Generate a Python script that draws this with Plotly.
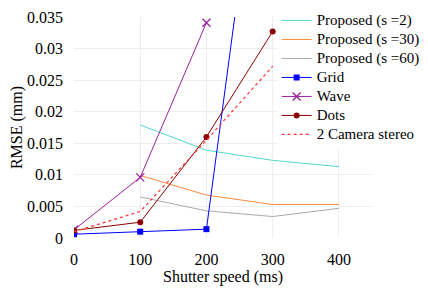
import plotly.graph_objects as go

x4 = [100, 200, 300, 400]
prop_s2 = [0.0179, 0.0139, 0.0123, 0.0113]
prop_s30 = [0.0099, 0.0068, 0.0053, 0.0053]
prop_s60 = [0.0065, 0.0043, 0.0034, 0.0047]
x_grid = [0, 100, 200, 300]
grid = [0.0006, 0.0010, 0.0014, 0.080]
x_wave = [0, 100, 200]
wave = [0.0013, 0.0096, 0.0341]
x_dots = [0, 100, 200, 300]
dots = [0.0012, 0.0025, 0.0160, 0.0327]
x_stereo = [0, 100, 200, 300]
stereo = [0.0010, 0.0042, 0.0155, 0.0272]
names = ["Proposed (s =2)", "Proposed (s =30)", "Proposed (s =60)",
         "Grid", "Wave", "Dots", "2 Camera stereo"]
y_ticks = [0, 0.005, 0.01, 0.015, 0.02, 0.025, 0.03, 0.035]
y_ticktext = ["0", "0.005", "0.01", "0.015", "0.02", "0.025", "0.03", "0.035"]
x_ticks = [0, 100, 200, 300, 400]

FONT = "Liberation Serif"


def lbl(t):
    return '<span style="font-size:15px">' + t + '</span>'


fig = go.Figure()
fig.add_trace(go.Scatter(x=x4, y=prop_s2, mode="lines", name=lbl(names[0]),
                         line=dict(color="#4fd8d0", width=1)))
fig.add_trace(go.Scatter(x=x4, y=prop_s30, mode="lines", name=lbl(names[1]),
                         line=dict(color="#ff8a3d", width=1)))
fig.add_trace(go.Scatter(x=x4, y=prop_s60, mode="lines", name=lbl(names[2]),
                         line=dict(color="#aaaaaa", width=1)))
fig.add_trace(go.Scatter(x=x_grid, y=grid, mode="lines+markers", name=lbl(names[3]),
                         line=dict(color="#0000ff", width=1),
                         marker=dict(symbol="square", size=6, color="#0000ff")))
fig.add_trace(go.Scatter(x=x_wave, y=wave, mode="lines+markers", name=lbl(names[4]),
                         line=dict(color="#9a1fa0", width=1),
                         marker=dict(symbol="x-thin-open", size=8, color="#9a1fa0",
                                     line=dict(width=1.3, color="#9a1fa0"))))
fig.add_trace(go.Scatter(x=x_dots, y=dots, mode="lines+markers", name=lbl(names[5]),
                         line=dict(color="#8b0000", width=1),
                         marker=dict(symbol="circle", size=6, color="#8b0000")))
fig.add_trace(go.Scatter(x=x_stereo, y=stereo, mode="lines", name=lbl(names[6]),
                         line=dict(color="#ff3333", width=1.2, dash="dot")))

fig.update_layout(
    width=420, height=287,
    margin=dict(l=66, r=56, t=9, b=57, autoexpand=False),
    paper_bgcolor="white", plot_bgcolor="white",
    font=dict(family=FONT, size=16, color="black"),
    showlegend=True,
    legend=dict(x=0.68, y=1.05, xanchor="left", yanchor="top",
                bgcolor="white", font=dict(family="Times New Roman", size=12, color="black"),
                tracegroupgap=0, itemwidth=30, maxheight=260),
    xaxis=dict(range=[0, 450], tickvals=x_ticks,
               showgrid=True, gridcolor="#eeeeee", zeroline=False,
               showline=False, ticks="", ticklabelstandoff=10,
               ticklabeloverflow="allow",
               tickfont=dict(family=FONT, size=16, color="black"),
               title=dict(text="Shutter speed (ms)", standoff=0,
                          font=dict(family=FONT, size=16, color="black"))),
    yaxis=dict(range=[0, 0.035], tickvals=y_ticks, ticktext=y_ticktext,
               showgrid=True, gridcolor="#eeeeee", zeroline=False,
               showline=False, ticks="", ticklabelstandoff=10,
               ticklabeloverflow="allow",
               tickfont=dict(family=FONT, size=16, color="black"),
               title=dict(text="RMSE (mm)", standoff=2,
                          font=dict(family=FONT, size=16, color="black"))),
)
fig.write_html("out.html")
